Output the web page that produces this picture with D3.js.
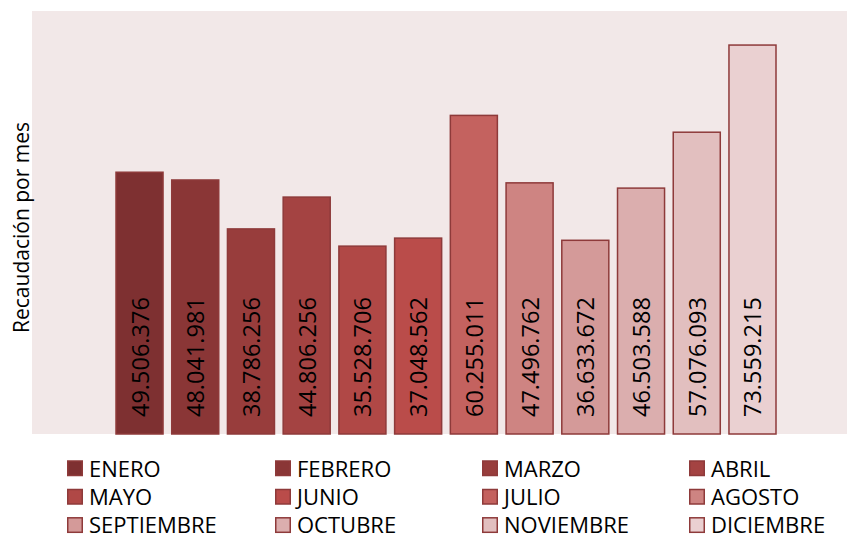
<!DOCTYPE html>
<html>
<head>
<meta charset="utf-8">
<script src="https://cdn.jsdelivr.net/npm/d3@7"></script>
<style>
  html, body { margin: 0; padding: 0; background: #ffffff; }
  svg { display: block; }
  text { font-family: "Open Sans", "Noto Sans", sans-serif; fill: #000; }
</style>
</head>
<body>
<svg id="chart" width="847" height="540"></svg>
<script>
// ---- Data ----
const months = ["ENERO","FEBRERO","MARZO","ABRIL","MAYO","JUNIO","JULIO","AGOSTO","SEPTIEMBRE","OCTUBRE","NOVIEMBRE","DICIEMBRE"];
const values = [49506376, 48041981, 38786256, 44806256, 35528706, 37048562, 60255011, 47496762, 36633672, 46503588, 57076093, 73559215];
const valueLabels = ["49.506.376","48.041.981","38.786.256","44.806.256","35.528.706","37.048.562","60.255.011","47.496.762","36.633.672","46.503.588","57.076.093","73.559.215"];
const colors = ["#7E3031","#8A3636","#983D3C","#A44342","#B04846","#BA4C4A","#C4625F","#CE8482","#D49A99","#DBAEAE","#E2BFBF","#EAD0D1"];
const yAxisTitle = "Recaudación por mes";
const yDomain = [0, 80000000];

// ---- Layout ----
const svg = d3.select("#chart");
const plot = { left: 32, top: 11, right: 847, bottom: 434 };

svg.append("rect")
  .attr("x", plot.left).attr("y", plot.top)
  .attr("width", plot.right - plot.left).attr("height", plot.bottom - plot.top)
  .attr("fill", "#F2E8E8");

const x = d3.scaleBand().domain(months).range([116, 776]).paddingInner(0.156).paddingOuter(0);
const y = d3.scaleLinear().domain(yDomain).range([plot.bottom, plot.top]);

const data = months.map((m, i) => ({ m, v: values[i], label: valueLabels[i], c: colors[i] }));

svg.append("g").selectAll("rect").data(data).join("rect")
  .attr("x", d => x(d.m))
  .attr("y", d => y(d.v))
  .attr("width", x.bandwidth())
  .attr("height", d => y(0) - y(d.v))
  .attr("fill", d => d.c)
  .attr("stroke", "#8E3A3A")
  .attr("stroke-width", 1.5);

svg.append("g").selectAll("text").data(data).join("text")
  .attr("transform", d => `translate(${x(d.m) + x.bandwidth() / 2},417) rotate(-90)`)
  .attr("text-anchor", "start")
  .attr("dominant-baseline", "central")
  .attr("font-size", 23.5)
  .text(d => d.label);

// y-axis title
svg.append("text")
  .attr("transform", `translate(21,${(plot.top + plot.bottom) / 2 + 5}) rotate(-90)`)
  .attr("text-anchor", "middle")
  .attr("dominant-baseline", "central")
  .attr("font-size", 21)
  .text(yAxisTitle);

// ---- Legend ----
const colSwatchX = [67, 275, 482, 689];
const rowBaseline = [476.5, 505, 533.3];
const legend = svg.append("g").selectAll("g").data(data).join("g")
  .attr("transform", (d, i) => `translate(${colSwatchX[i % 4]},${rowBaseline[Math.floor(i / 4)]})`);
legend.append("rect")
  .attr("x", 0.75).attr("y", -15.5).attr("width", 14.5).attr("height", 14.5)
  .attr("fill", d => d.c).attr("stroke", "#8E3A3A").attr("stroke-width", 1.5);
legend.append("text")
  .attr("x", 22).attr("y", 0)
  .attr("font-size", 22)
  .text(d => d.m);
</script>
</body>
</html>
